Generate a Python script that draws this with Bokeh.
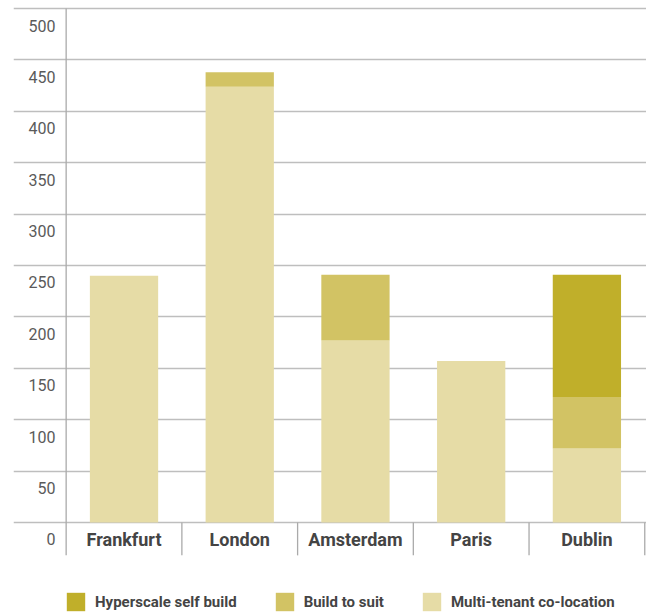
from bokeh.plotting import figure
from bokeh.models import ColumnDataSource, FixedTicker, Legend, LegendItem
from bokeh.core.properties import value
from bokeh.embed import file_html
from bokeh.resources import INLINE

# ---- data ----
cities = ["Frankfurt", "London", "Amsterdam", "Paris", "Dublin"]
multi_tenant = [240, 424, 177, 157, 72]
build_to_suit = [0, 14, 64, 0, 50]
hyperscale = [0, 0, 0, 0, 119]
y_ticks = [0, 50, 100, 150, 200, 250, 300, 350, 400, 450, 500]
series_names = ["Multi-tenant co-location", "Build to suit", "Hyperscale self build"]
series_colors = ["#E6DCA6", "#D2C364", "#C0AF2A"]

FONT = "Roboto"

n = len(cities)
xs = [i + 0.5 for i in range(n)]
src = ColumnDataSource(dict(x=xs, cat=cities, m=multi_tenant, b=build_to_suit, h=hyperscale))

p = figure(width=646, height=615, output_backend="svg", toolbar_location=None,
           x_range=(-0.455, n + 0.015), y_range=(-90.5, 507.8),
           min_border_left=13, min_border_right=0, min_border_top=0, min_border_bottom=0)
p.axis.visible = False
p.xgrid.visible = False
p.ygrid.ticker = FixedTicker(ticks=y_ticks)
p.ygrid.grid_line_color = "#BEBEBE"
p.ygrid.grid_line_width = 1.3
p.outline_line_color = None
p.background_fill_color = "white"

renderers = p.vbar_stack(["m", "b", "h"], x="x", width=0.59, source=src,
                         color=series_colors, line_color=None)

# axis line and category separators
low = -32
p.segment(x0=[0], y0=[low], x1=[0], y1=[max(y_ticks)], line_color="#AAAAAA", line_width=1.3)
sep = list(range(1, n + 1))
p.segment(x0=sep, y0=[low] * n, x1=sep, y1=[0] * n, line_color="#AAAAAA", line_width=1.3)

# y tick labels
p.text(x=[-0.092] * len(y_ticks), y=y_ticks, text=[str(t) for t in y_ticks],
       y_offset=17, text_align="right", text_baseline="middle",
       text_font=value(FONT), text_font_size="16px", text_color="#5A5A5A")

# category labels
p.text(x=xs, y=[0] * n, text=cities, y_offset=17, text_align="center", text_baseline="middle",
       text_font=value(FONT), text_font_size="18px", text_font_style="bold", text_color="#444444")

items = [LegendItem(label=series_names[i], renderers=[renderers[i]]) for i in (2, 1, 0)]
legend = Legend(items=items, orientation="horizontal", location=(51, 2),
                glyph_width=23, glyph_height=23, label_standoff=8, spacing=36,
                padding=0, margin=0, border_line_color=None, background_fill_alpha=0,
                label_text_font=FONT, label_text_font_size="15px", label_text_font_style="bold",
                label_text_color="#444444", label_height=23)
p.add_layout(legend, "center")

open("out.html", "w").write(file_html(p, INLINE))
